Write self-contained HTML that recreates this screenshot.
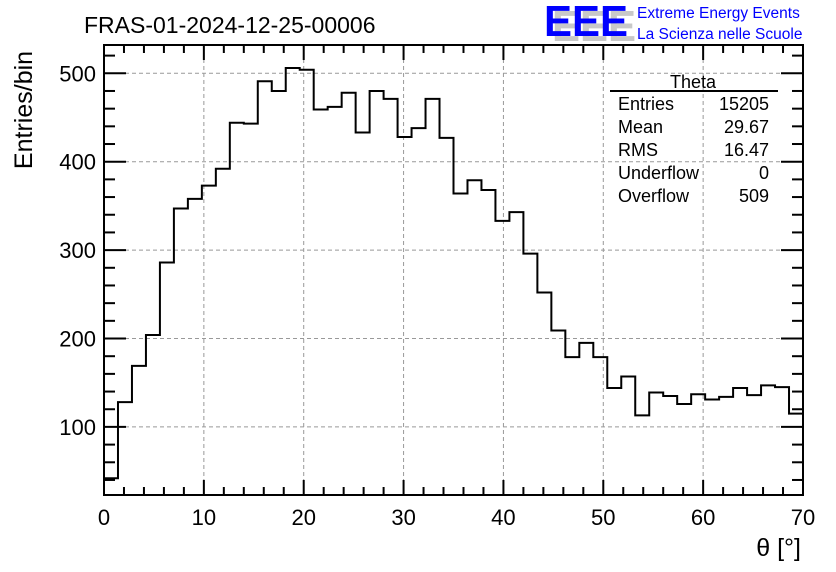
<!DOCTYPE html>
<html><head><meta charset="utf-8"><style>
body{margin:0;background:#fff;}
svg{display:block;font-family:"Liberation Sans",sans-serif;}
</style></head><body>
<svg id="chart" width="836" height="572" viewBox="0 0 836 572">
<rect width="836" height="572" fill="#fff"/>
<text x="84" y="33" font-size="23">FRAS-01-2024-12-25-00006</text>
<g>
<text x="552" y="41" font-size="44" fill="#c8c8c8" textLength="84" lengthAdjust="spacingAndGlyphs" font-weight="bold">EEE</text>
<text x="544" y="36" font-size="44" fill="#0000ff" textLength="84" lengthAdjust="spacingAndGlyphs" font-weight="bold">EEE</text>
<text x="637" y="18" font-size="15.5" fill="#0000ff">Extreme Energy Events</text>
<text x="637" y="39" font-size="15.5" fill="#0000ff">La Scienza nelle Scuole</text>
</g>
<g id="grid"></g>
<g id="ticks"></g>
<path id="hist" fill="none" stroke="#000" stroke-width="2"/>
<rect x="104" y="45" width="699" height="450" fill="none" stroke="#000" stroke-width="2"/>
<g id="labels" font-size="22"></g>
<text transform="translate(32,110) rotate(-90)" text-anchor="middle" font-size="25">Entries/bin</text>
<text x="801" y="556" text-anchor="end" font-size="25">θ [°]</text>
<g font-size="18">
<text x="693" y="88" text-anchor="middle">Theta</text>
<line x1="610" y1="91" x2="778" y2="91" stroke="#000" stroke-width="2"/>
<text x="618" y="110">Entries</text><text x="769" y="110" text-anchor="end">15205</text>
<text x="618" y="133">Mean</text><text x="769" y="133" text-anchor="end">29.67</text>
<text x="618" y="156">RMS</text><text x="769" y="156" text-anchor="end">16.47</text>
<text x="618" y="179">Underflow</text><text x="769" y="179" text-anchor="end">0</text>
<text x="618" y="202">Overflow</text><text x="769" y="202" text-anchor="end">509</text>
</g>
</svg>
<script>
const binCounts = [42,128,169,204,286,347,358,373,392,444,443,491,480,506,504,459,462,478,433,480,471,428,438,471,427,364,379,368,333,343,296,252,209,179,195,179,144,157,113,139,135,126,137,131,134,144,136,147,145,115];
const xRange = [0,70];
const yRange = [23,532];
const xTickLabels = [0,10,20,30,40,50,60,70];
const yTickLabels = [100,200,300,400,500];
const NS='http://www.w3.org/2000/svg';
const L=104,R=803,T=45,B=495;
const sx=v=>L+(v-xRange[0])/(xRange[1]-xRange[0])*(R-L);
const sy=v=>B-(v-yRange[0])/(yRange[1]-yRange[0])*(B-T);
function mk(tag,attrs,parent){const e=document.createElementNS(NS,tag);for(const k in attrs)e.setAttribute(k,attrs[k]);parent.appendChild(e);return e;}
const grid=document.getElementById('grid'),ticks=document.getElementById('ticks'),labels=document.getElementById('labels');
xTickLabels.forEach(v=>{const x=sx(v);
 if(v>xRange[0]&&v<xRange[1]){const g=mk('line',{x1:x,x2:x,y1:T,y2:B,stroke:'#999','stroke-dasharray':'4,3'},grid);
 
 }
 const t=mk('text',{x:x,y:525,'text-anchor':'middle'},labels);t.textContent=v;
 
 });
yTickLabels.forEach(v=>{const y=sy(v);
 const g=mk('line',{x1:L,x2:R,y1:y,y2:y,stroke:'#999','stroke-dasharray':'4,3'},grid);
 
 
 const t=mk('text',{x:96,y:y+8,'text-anchor':'end'},labels);t.textContent=v;
 
 });
for(let v=xRange[0];v<=xRange[1];v+=2){const x=sx(v),len=(v%10===0)?15:8;
 mk('line',{x1:x,x2:x,y1:B,y2:B-len,stroke:'#000','stroke-width':2},ticks);
 mk('line',{x1:x,x2:x,y1:T,y2:T+len,stroke:'#000','stroke-width':2},ticks);}
for(let v=40;v<=520;v+=20){const y=sy(v),len=(v%100===0)?22:11;
 mk('line',{x1:L,x2:L+len,y1:y,y2:y,stroke:'#000','stroke-width':2},ticks);
 mk('line',{x1:R,x2:R-len,y1:y,y2:y,stroke:'#000','stroke-width':2},ticks);}
const w=(xRange[1]-xRange[0])/binCounts.length;
let d='M'+sx(0)+','+sy(binCounts[0]);
binCounts.forEach((c,i)=>{d+=' L'+sx(i*w)+','+sy(c)+' L'+sx((i+1)*w)+','+sy(c);});
document.getElementById('hist').setAttribute('d',d);
</script>
</body></html>
